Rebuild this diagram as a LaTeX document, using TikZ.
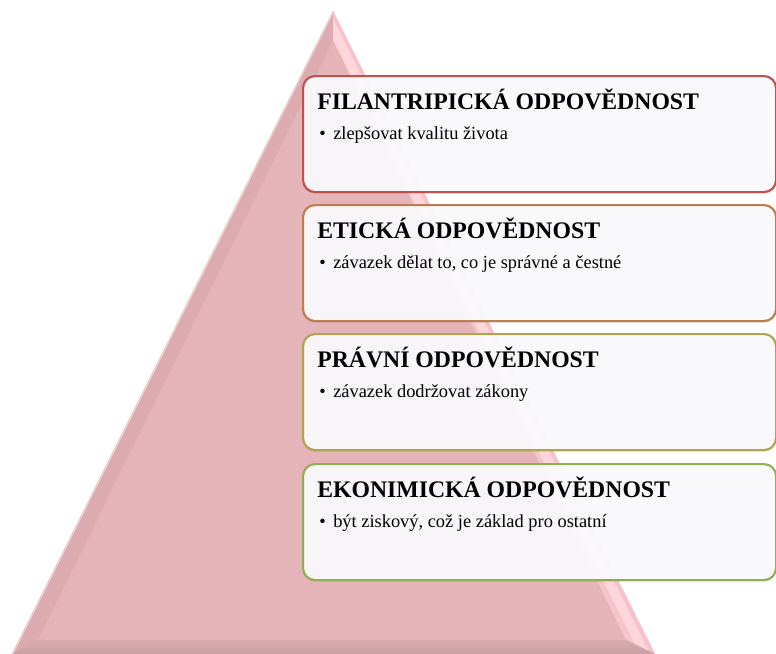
\documentclass[tikz,border=0pt]{standalone}
\usepackage{fontspec}
\setmainfont{Liberation Serif}
\usetikzlibrary{shadows,calc}
\definecolor{pyr}{HTML}{E4B4B9}
\definecolor{pyrleft}{HTML}{DCABB0}
\definecolor{pyredge}{HTML}{F2CCD0}
\definecolor{pyrright}{HTML}{F4C4C9}
\definecolor{pyrhl}{HTML}{FFD6DB}
\definecolor{pyrbot}{HTML}{C9A0A4}
\definecolor{pyrbottop}{HTML}{D9ABB0}
\definecolor{boxfill}{HTML}{FBFAFD}
\definecolor{c1}{HTML}{C0504D}
\definecolor{c2}{HTML}{BC7E4C}
\definecolor{c3}{HTML}{B0A54C}
\definecolor{c4}{HTML}{8FAF52}
\tikzset{
  layerbox/.style={draw, line width=1.6pt, rounded corners=9pt, fill=boxfill, fill opacity=0.95,
    minimum width=354.75pt, minimum height=87pt, anchor=north west, inner sep=0pt,
    drop shadow={opacity=0.25, shadow xshift=0pt, shadow yshift=-1.2pt}},
  title/.style={anchor=base west, inner sep=0pt, font=\fontsize{17.8pt}{20pt}\selectfont\bfseries},
  item/.style={anchor=base west, inner sep=0pt, font=\fontsize{13.8pt}{16pt}\selectfont}
}
\begin{document}
\begin{tikzpicture}[x=0.75pt,y=-0.75pt]
\useasboundingbox (0,0) rectangle (776,654);
% pyramid
\coordinate (apex) at (333,11);
\coordinate (bl) at (12,654);
\coordinate (br) at (655,654);
\coordinate (iapex) at (333,40);
\coordinate (ibl) at (38,640);
\coordinate (ibr) at (626,640);
\fill[pyr] (apex) -- (bl) -- (br) -- cycle;
\fill[pyrleft] (apex) -- (bl) -- (ibl) -- (iapex) -- cycle;
\fill[pyrright] (apex) -- (iapex) -- (ibr) -- (br) -- cycle;
\begin{scope}
  \clip (apex) -- (iapex) -- (ibr) -- (br) -- cycle;
  \draw[pyrhl, line width=7pt] ($(apex)+(-6,6)$) -- ($(br)+(-11,-2)$);
\end{scope}
\begin{scope}
  \clip (apex) -- (bl) -- (ibl) -- (iapex) -- cycle;
  \draw[pyredge, line width=2pt] (apex) -- (bl);
\end{scope}
\shade[top color=pyrbottop, bottom color=pyrbot] (bl) -- (ibl) -- (ibr) -- (br) -- cycle;
% boxes
\node[layerbox, draw=c1] (b1) at (302,75) {};
\node[layerbox, draw=c2] (b2) at (302,204) {};
\node[layerbox, draw=c3] (b3) at (302,333) {};
\node[layerbox, draw=c4] (b4) at (302,463) {};
% texts
\node[title] (t1) at (317,109) {FILANTRIPICKÁ ODPOVĚDNOST};
\node[item] (i1) at (319,139.5) {\makebox[10.5pt][l]{•}zlepšovat kvalitu života};
\node[title] (t2) at (317,238) {ETICKÁ ODPOVĚDNOST};
\node[item] (i2) at (319,268.5) {\makebox[10.5pt][l]{•}závazek dělat to, co je správné a čestné};
\node[title] (t3) at (317,367) {PRÁVNÍ ODPOVĚDNOST};
\node[item] (i3) at (319,397.5) {\makebox[10.5pt][l]{•}závazek dodržovat zákony};
\node[title] (t4) at (317,497) {EKONIMICKÁ ODPOVĚDNOST};
\node[item] (i4) at (319,527.5) {\makebox[10.5pt][l]{•}být ziskový, což je základ pro ostatní};
\end{tikzpicture}
\end{document}
